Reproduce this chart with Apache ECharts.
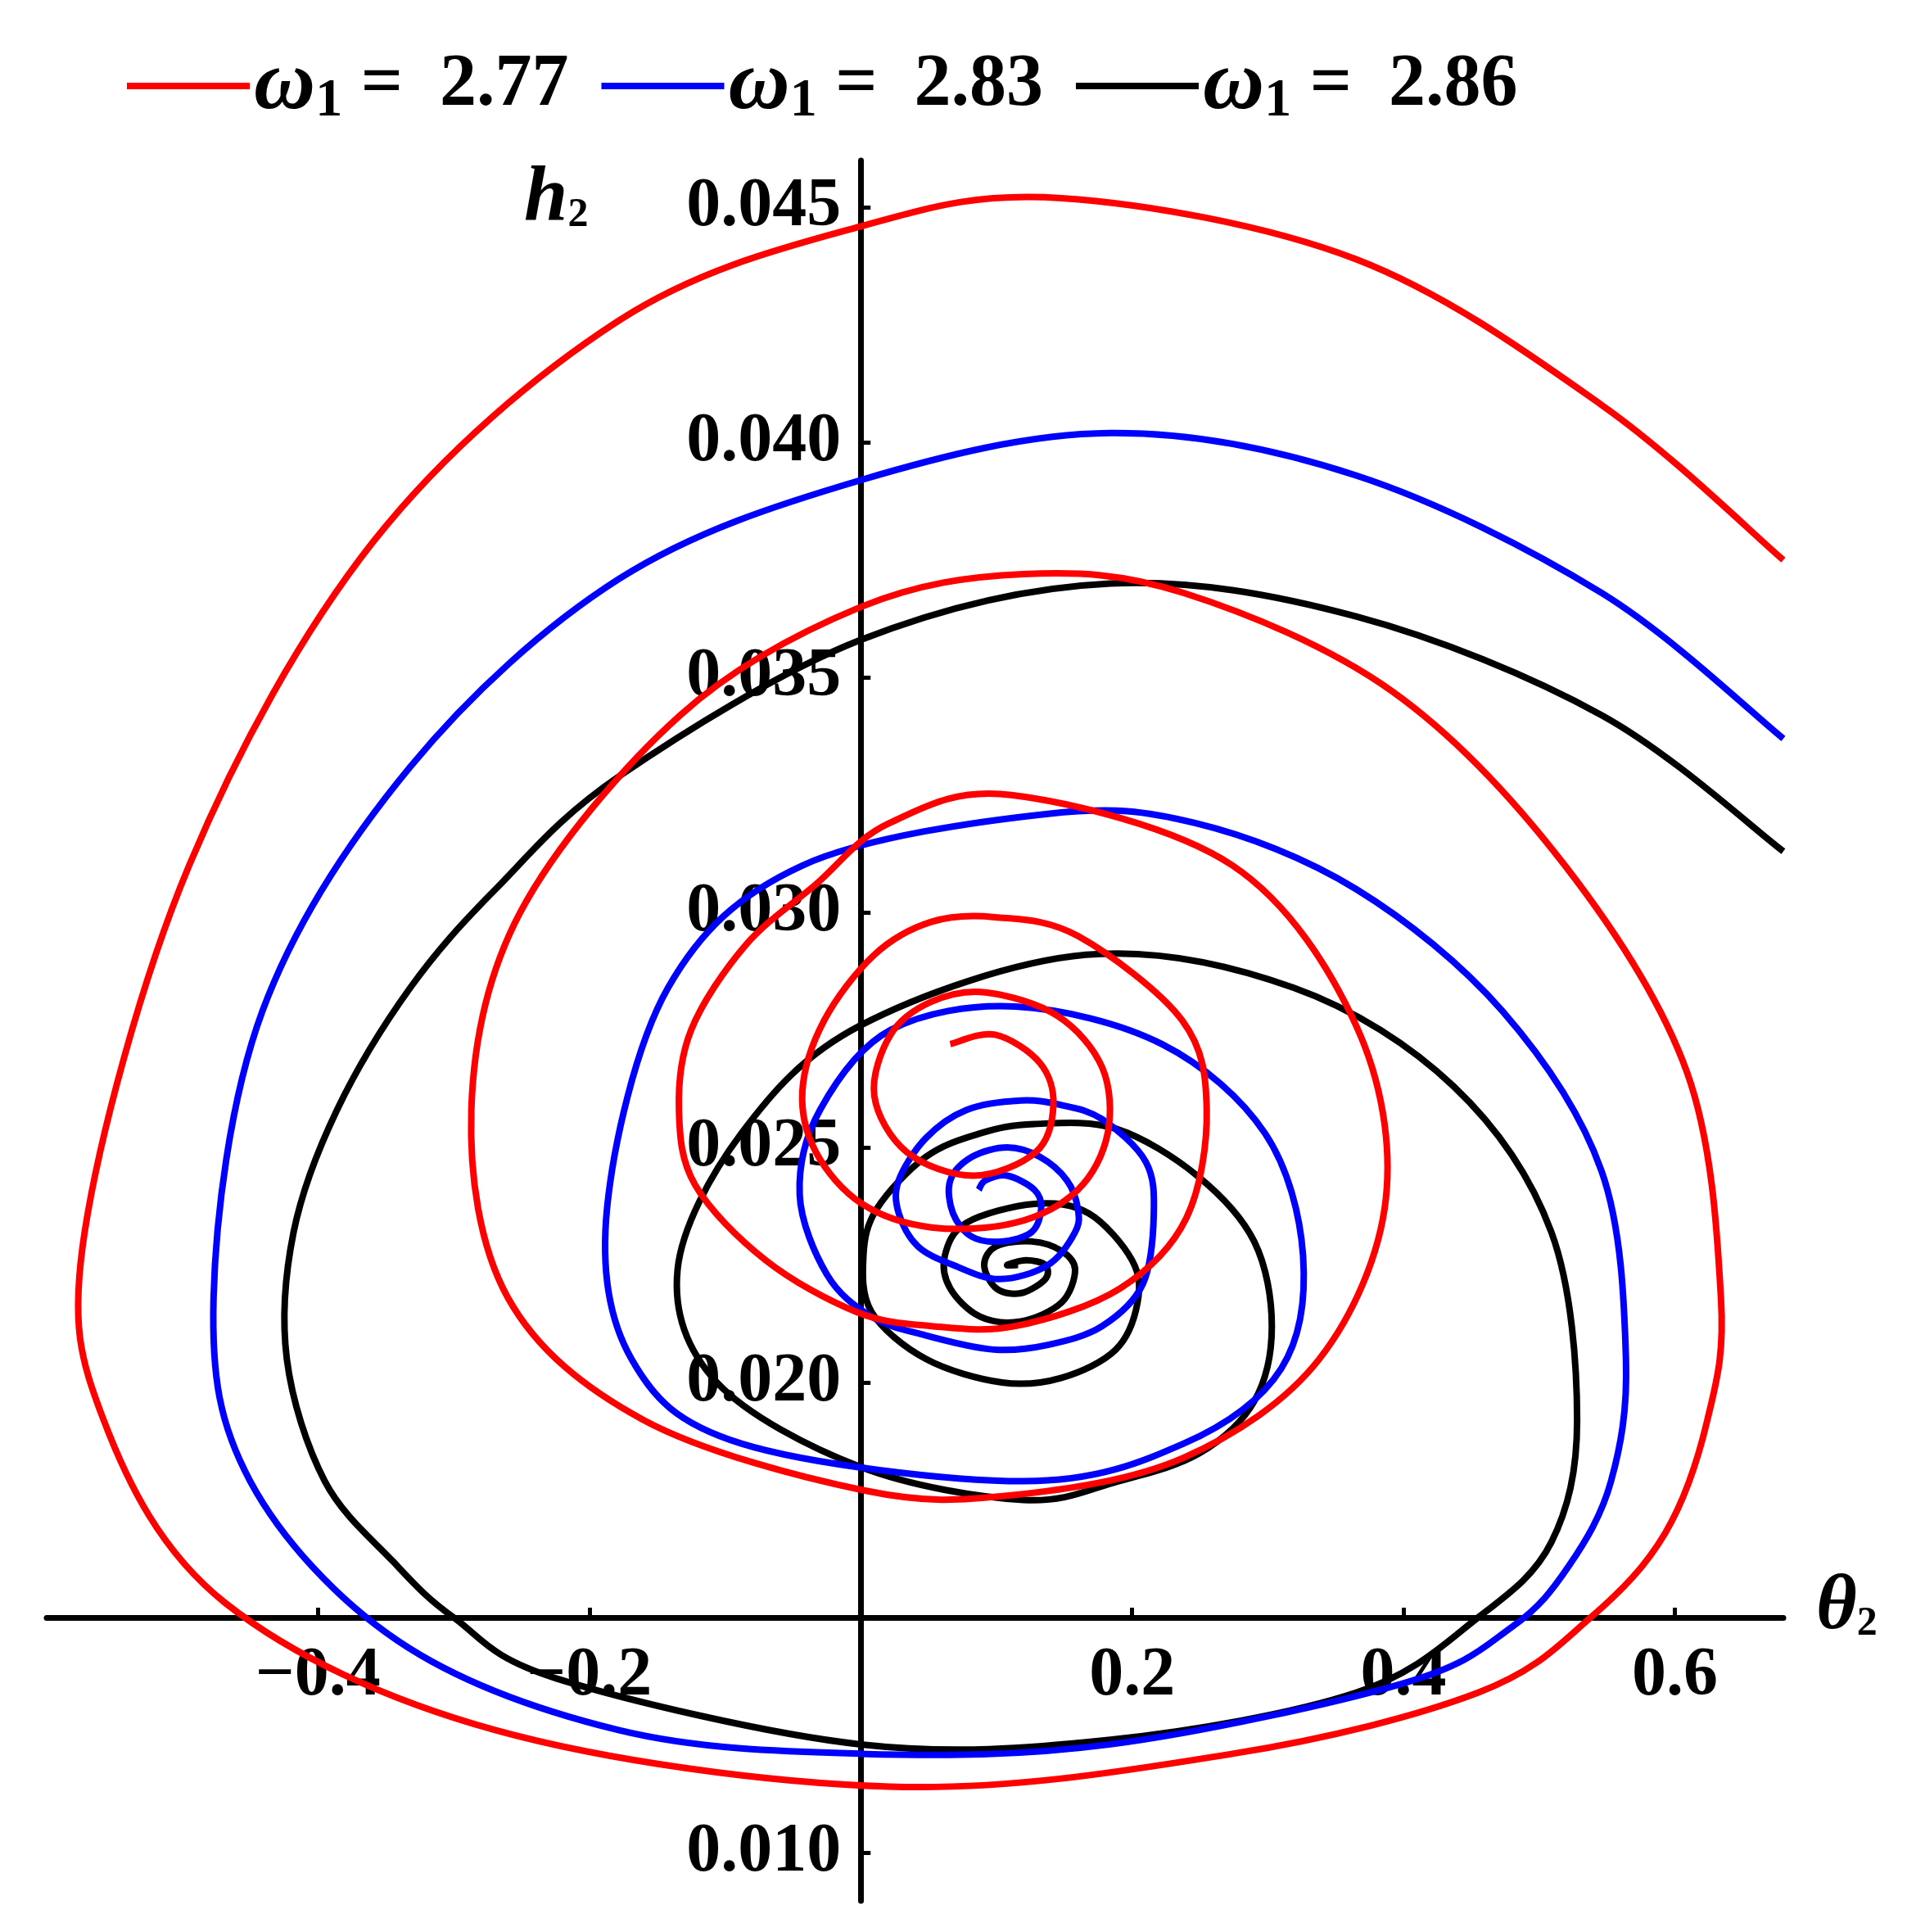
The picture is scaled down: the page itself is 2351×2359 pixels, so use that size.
<!DOCTYPE html>
<html>
<head>
<meta charset="utf-8">
<script src="https://cdn.jsdelivr.net/npm/echarts@6/dist/echarts.min.js"></script>
<style>html,body{margin:0;padding:0;background:#fff}#main{width:2351px;height:2359px}</style>
</head>
<body>
<div id="main"></div>
<script>
// phase portraits, theta2 vs h2 (center of spiral -> outside)
const omegaLabels = ['2.77', '2.83', '2.86'];
const colors = ['#ff0000', '#0000ff', '#000000'];

const red277 = [
  [0.066,0.0272],[0.099,0.0274],[0.132,0.0268],[0.142,0.0259],[0.129,0.0249],[0.083,0.0244],
  [0.034,0.0249],[0.010,0.0261],[0.022,0.0274],[0.052,0.0281],[0.092,0.0283],[0.145,0.0278],
  [0.178,0.0267],[0.182,0.0253],[0.160,0.0241],[0.114,0.0234],[0.052,0.0233],[0.001,0.0238],
  [-0.033,0.0249],[-0.043,0.0262],[-0.027,0.0277],[0.010,0.0291],[0.052,0.0298],[0.099,0.0299],
  [0.160,0.0295],[0.237,0.0277],[0.255,0.0258],[0.240,0.0235],[0.191,0.0220],[0.114,0.0212],
  [0.052,0.0212],[-0.003,0.0215],[-0.070,0.0226],[-0.122,0.0242],[-0.134,0.0258],[-0.125,0.0275],
  [-0.085,0.0293],[-0.033,0.0306],[0.021,0.0319],[0.111,0.0325],[0.274,0.0310],[0.365,0.0276],
  [0.387,0.0239],[0.338,0.0205],[0.238,0.0184],[0.111,0.0176],[0.003,0.0177],[-0.160,0.0192],
  [-0.260,0.0218],[-0.287,0.0258],[-0.251,0.0300],[-0.133,0.0342],[0.000,0.0365],[0.120,0.0372],
  [0.238,0.0368],[0.392,0.0347],[0.519,0.0310],[0.609,0.0266],[0.634,0.0218],[0.624,0.0192],
  [0.593,0.0168],[0.538,0.0150],[0.455,0.0134],[0.274,0.0121],[0.021,0.0114],[-0.269,0.0126],
  [-0.468,0.0153],[-0.558,0.0192],[-0.572,0.0232],[-0.495,0.0310],[-0.359,0.0379],[-0.178,0.0426],
  [0.000,0.0446],[0.148,0.0452],[0.365,0.0439],[0.546,0.0408],[0.680,0.0375]
];

const blue283 = [
  [0.087,0.0241],[0.092,0.0243],[0.108,0.0244],[0.128,0.0241],[0.133,0.0237],[0.126,0.0232],
  [0.104,0.0230],[0.082,0.0231],[0.068,0.0236],[0.066,0.0243],[0.082,0.0248],[0.108,0.0250],
  [0.132,0.0248],[0.152,0.0243],[0.160,0.0237],[0.158,0.0232],[0.138,0.0225],[0.102,0.0222],
  [0.068,0.0225],[0.042,0.0229],[0.028,0.0236],[0.028,0.0243],[0.048,0.0252],[0.078,0.0258],
  [0.118,0.0260],[0.148,0.0259],[0.178,0.0256],[0.210,0.0247],[0.216,0.0236],[0.208,0.0221],
  [0.178,0.0212],[0.138,0.0208],[0.098,0.0207],[0.048,0.0210],[0.008,0.0214],[-0.025,0.0223],
  [-0.045,0.0240],[-0.030,0.0258],[0.022,0.0275],[0.114,0.0280],[0.222,0.0272],[0.298,0.0253],
  [0.326,0.0227],[0.310,0.0203],[0.238,0.0187],[0.120,0.0179],[-0.088,0.0187],[-0.169,0.0205],
  [-0.187,0.0237],[-0.142,0.0284],[-0.043,0.0310],[0.138,0.0321],[0.247,0.0319],[0.365,0.0305],
  [0.473,0.0279],[0.546,0.0245],[0.564,0.0205],[0.553,0.0179],[0.522,0.0161],[0.480,0.0148],
  [0.400,0.0136],[0.184,0.0123],[0.000,0.0121],[-0.178,0.0126],[-0.341,0.0145],
  [-0.450,0.0179],[-0.477,0.0218],[-0.441,0.0279],[-0.332,0.0331],[-0.178,0.0371],[0.000,0.0392],
  [0.184,0.0402],[0.365,0.0393],[0.546,0.0368],[0.680,0.0337]
];

const black286 = [
  [0.116,0.0225],[0.108,0.0225],[0.122,0.0226],[0.136,0.0225],[0.136,0.0222],[0.118,0.0219],
  [0.100,0.0220],[0.091,0.0225],[0.100,0.0229],[0.126,0.0230],[0.148,0.0228],[0.158,0.0224],
  [0.148,0.0217],[0.118,0.0213],[0.088,0.0214],[0.066,0.0220],[0.062,0.0227],[0.078,0.0234],
  [0.128,0.0238],[0.168,0.0236],[0.200,0.0226],[0.204,0.0217],[0.188,0.0207],[0.148,0.0201],
  [0.104,0.0200],[0.048,0.0205],[0.008,0.0215],[0.002,0.0227],[0.012,0.0237],[0.048,0.0248],
  [0.088,0.0253],[0.128,0.0255],[0.188,0.0254],[0.248,0.0244],[0.290,0.0230],[0.303,0.0212],
  [0.290,0.0196],[0.250,0.0185],[0.190,0.0179],[0.120,0.0175],[0.000,0.0182],[-0.106,0.0200],
  [-0.135,0.0224],[-0.088,0.0253],[0.000,0.0276],[0.166,0.0291],[0.319,0.0284],[0.437,0.0263],
  [0.509,0.0232],[0.528,0.0192],[0.509,0.0166],[0.455,0.0150],[0.365,0.0134],[0.184,0.0124],
  [0.000,0.0123],[-0.224,0.0137],[-0.300,0.0150],[-0.345,0.0162],[-0.395,0.0179],[-0.423,0.0205],
  [-0.418,0.0232],[-0.386,0.0258],[-0.332,0.0284],[-0.269,0.0305],[-0.178,0.0329],[0.000,0.0358],
  [0.184,0.0370],[0.365,0.0363],[0.546,0.0342],[0.680,0.0313]
];

const xTicks = [-0.4, -0.2, 0.2, 0.4, 0.6];
const yTicks = [0.010, 0.020, 0.025, 0.030, 0.035, 0.040, 0.045];
const hCross = 0.015; // theta axis crosses h2 here

const xMin = -0.6, xMax = 0.68, yMin = 0.00897, yMax = 0.0460;
const gridBox = { left: 57, right: 173, top: 196, bottom: 38 };
const W = 2351, H = 2359;
// move the axes into the plot so they cross at (0, hCross)
const plotW = W - gridBox.left - gridBox.right;
const plotH = H - gridBox.top - gridBox.bottom;
const yAxisOffset = -((0 - xMin) / (xMax - xMin)) * plotW;
const xAxisOffset = -((hCross - yMin) / (yMax - yMin)) * plotH;

const serif = 'Liberation Serif';
let chart = echarts.init(document.getElementById('main'));

// smooth curve through the points (catmull-rom as cubic bezier), in pixel space
function curvePath(pts) {
  let d = 'M' + pts[0][0] + ' ' + pts[0][1];
  for (let i = 0; i < pts.length - 1; i++) {
    let p0 = pts[Math.max(i - 1, 0)], p1 = pts[i], p2 = pts[i + 1];
    let p3 = pts[Math.min(i + 2, pts.length - 1)];
    let c1x = p1[0] + (p2[0] - p0[0]) / 6, c1y = p1[1] + (p2[1] - p0[1]) / 6;
    let c2x = p2[0] - (p3[0] - p1[0]) / 6, c2y = p2[1] - (p3[1] - p1[1]) / 6;
    d += ' C' + c1x + ' ' + c1y + ' ' + c2x + ' ' + c2y + ' ' + p2[0] + ' ' + p2[1];
  }
  return d;
}

let series = [red277, blue283, black286].map((d, i) => ({
  name: 'w' + i,
  type: 'custom',
  data: d,
  itemStyle: { color: colors[i] },
  z: 3 - i,
  renderItem: function (params, api) {
    if (params.dataIndex !== 0) return null;
    let pts = d.map(p => api.coord(p));
    return {
      type: 'path',
      shape: { pathData: curvePath(pts) },
      style: { fill: null, stroke: colors[i], lineWidth: 8 }
    };
  }
}));

let legendNames = {};
omegaLabels.forEach((l, i) => { legendNames['w' + i] = l; });

const richSub = (size) => ({ fontFamily: serif, fontWeight: 'bold', fontSize: size, color: '#000' });

chart.setOption({
  animation: false,
  backgroundColor: '#fff',
  grid: Object.assign({ outerBoundsMode: 'none', containLabel: false }, gridBox),
  legend: {
    left: 150, top: 48,
    icon: 'rect', itemWidth: 150, itemHeight: 8, itemGap: 40,
    formatter: n => '{w|ω}{s|1}{n| =  ' + legendNames[n] + '}',
    textStyle: {
      rich: {
        w: { fontFamily: serif, fontStyle: 'italic', fontWeight: 'bold', fontSize: 104, color: '#000' },
        s: Object.assign(richSub(66), { padding: [38, 0, 0, 0] }),
        n: richSub(90)
      }
    }
  },
  xAxis: {
    type: 'value', min: xMin, max: xMax,
    position: 'bottom', offset: xAxisOffset,
    axisLine: { onZero: false, lineStyle: { color: '#000', width: 7 } },
    splitLine: { show: false },
    axisTick: { inside: true, length: 12, lineStyle: { color: '#000', width: 5 }, customValues: xTicks },
    axisLabel: {
      customValues: xTicks, margin: 30,
      fontFamily: serif, fontWeight: 'bold', fontSize: 84, color: '#000',
      formatter: v => (v < 0 ? '\u2212' : '') + Math.abs(v).toFixed(1)
    }
  },
  yAxis: {
    type: 'value', min: yMin, max: yMax,
    position: 'left', offset: yAxisOffset,
    axisLine: { onZero: false, lineStyle: { color: '#000', width: 7 } },
    splitLine: { show: false },
    axisTick: { inside: true, length: 12, lineStyle: { color: '#000', width: 5 }, customValues: yTicks },
    axisLabel: {
      customValues: yTicks, margin: 24,
      fontFamily: serif, fontWeight: 'bold', fontSize: 84, color: '#000',
      formatter: v => v.toFixed(3)
    }
  },
  graphic: [
    {
      type: 'text', left: 640, top: 195, z: 10,
      style: { text: '{i|h}{s|2}', rich: {
        i: { fontFamily: serif, fontStyle: 'italic', fontWeight: 'bold', fontSize: 96, fill: '#000' },
        s: { fontFamily: serif, fontWeight: 'bold', fontSize: 50, fill: '#000', padding: [40, 0, 0, 0] }
      } }
    },
    {
      type: 'text', left: 2218, top: 1915, z: 10,
      style: { text: '{i|θ}{s|2}', rich: {
        i: { fontFamily: serif, fontStyle: 'italic', fontWeight: 'bold', fontSize: 96, fill: '#000' },
        s: { fontFamily: serif, fontWeight: 'bold', fontSize: 50, fill: '#000', padding: [40, 0, 0, 0] }
      } }
    }
  ],
  series: series
});
</script>
</body>
</html>
